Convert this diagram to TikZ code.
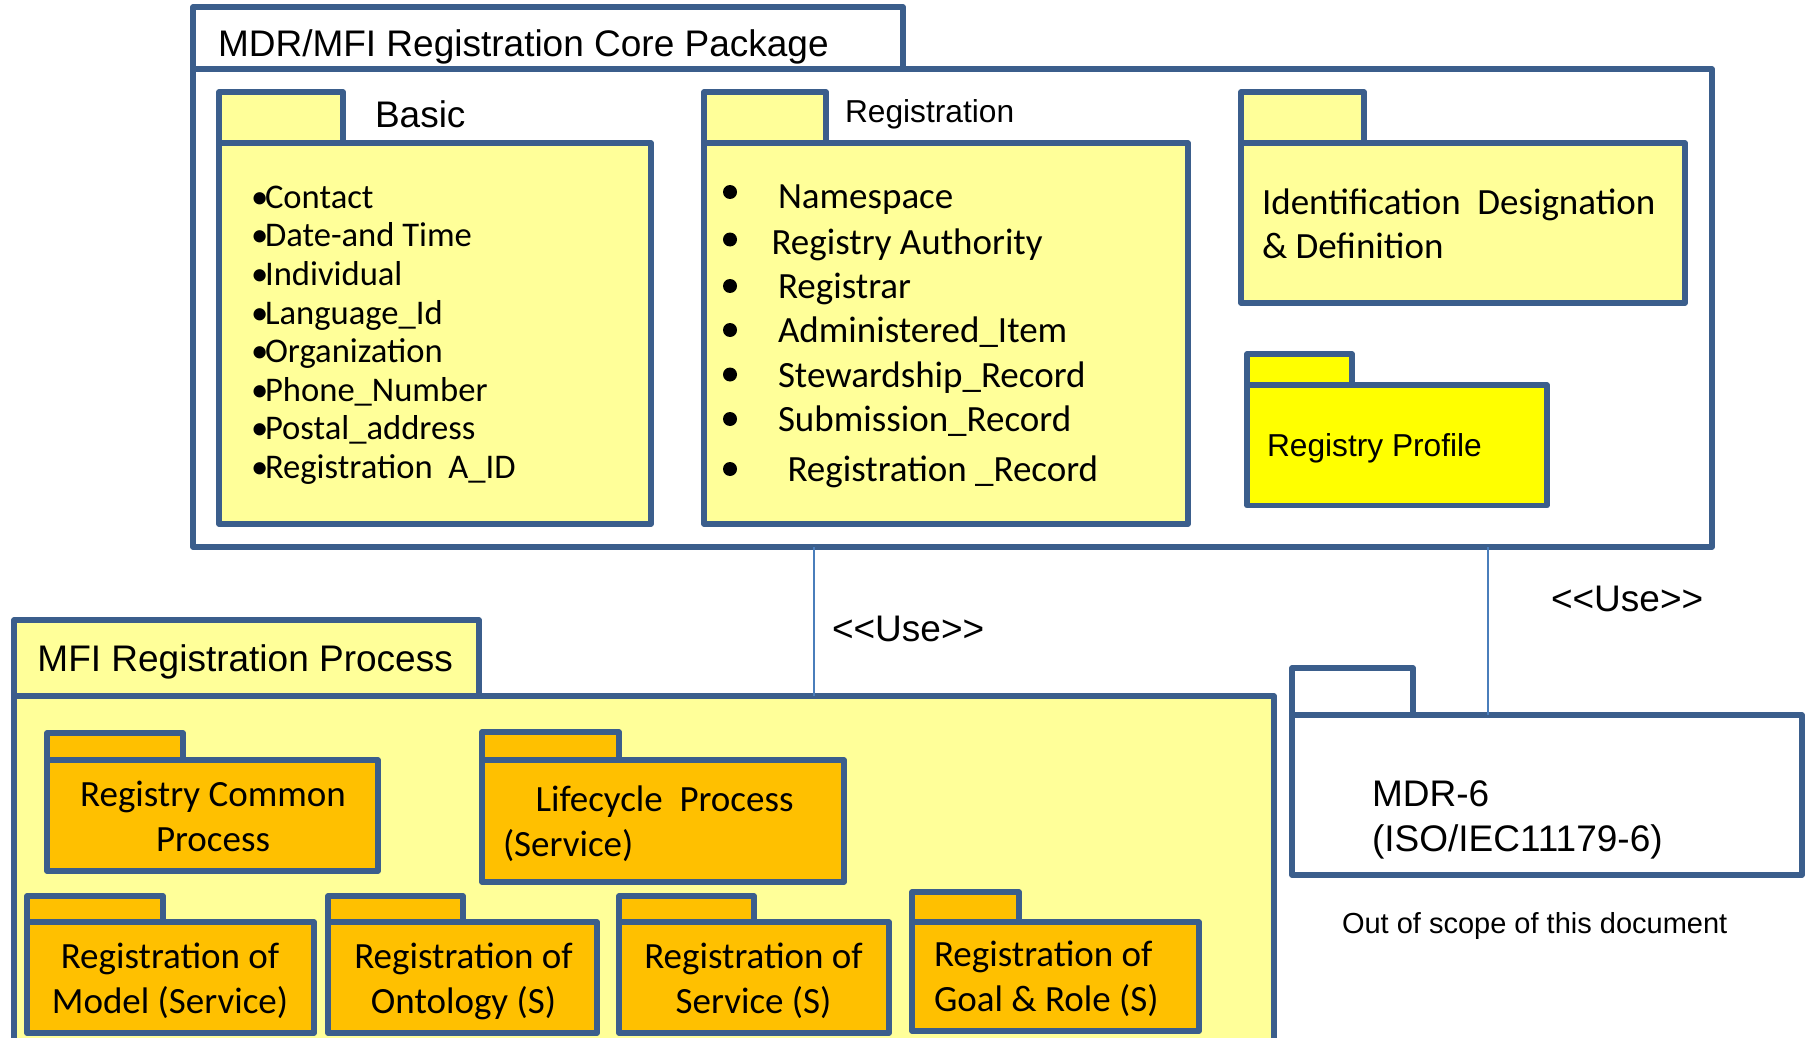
\documentclass[tikz,border=0pt]{standalone}
\usepackage{fontspec}
\setmainfont{Liberation Sans}
\newfontfamily\calibf{Carlito}
\definecolor{pkgline}{HTML}{3B5E8C}
\definecolor{connline}{HTML}{4A7EBB}
\definecolor{lightyel}{HTML}{FFFF99}
\definecolor{orangefill}{HTML}{FFC000}
\definecolor{brightyel}{HTML}{FFFF00}
\newcommand\pkgbox[6]{%
  \node[pkgshape, fill=#6, minimum width={((#4)-(#2))*0.5pt}, minimum height={((#5)-(#3))*0.5pt}] (#1) at (#2,#3) {};}
\newcommand\bul{•\kern-1.6pt}
\begin{document}
\begin{tikzpicture}[x=0.5pt,y=-0.5pt,
  pkgshape/.style={draw=pkgline, line width=2.75pt, rectangle, inner sep=0pt, outer sep=0pt, anchor=north west, line join=round},
  conn/.style={draw=connline, line width=1pt},
  txt/.style={anchor=base west, inner sep=0pt, outer sep=0pt},
  ctxt/.style={anchor=base, inner sep=0pt, outer sep=0pt},
  arialL/.style={font=\fontsize{18.5}{22}\selectfont},
  arialS/.style={font=\fontsize{15.85}{19}\selectfont},
  arialXS/.style={font=\fontsize{14.5}{17}\selectfont},
  calL/.style={font=\calibf\fontsize{18.5}{22}\selectfont},
  calM/.style={font=\calibf\fontsize{17.3}{21}\selectfont},
  blt/.style={fill=black, draw=none}
]
\useasboundingbox (0,0) rectangle (1811,1038);
\clip (0,0) rectangle (1811,1038);

% ---------------- Core package ----------------
\pkgbox{coretab}{193}{7}{903}{69}{white}
\pkgbox{core}{193}{69}{1712}{547}{white}
\node[txt, arialL] (coretitle) at (218,56.5) {MDR/MFI Registration Core Package};

% Basic
\pkgbox{basictab}{219}{92}{343}{143}{lightyel}
\pkgbox{basic}{219}{143}{651}{524}{lightyel}
\node[txt, arialL] (basiclbl) at (375,128) {Basic};
\node[txt, calM] (b1) at (251,208.5) {\bul Contact};
\node[txt, calM] (b2) at (251,247) {\bul Date-and Time};
\node[txt, calM] (b3) at (251,285.5) {\bul Individual};
\node[txt, calM] (b4) at (251,324) {\bul Language\_Id};
\node[txt, calM] (b5) at (251,362.5) {\bul Organization};
\node[txt, calM] (b6) at (251,401) {\bul Phone\_Number};
\node[txt, calM] (b7) at (251,439.5) {\bul Postal\_address};
\node[txt, calM] (b8) at (251,478) {\bul Registration\ \ A\_ID};

% Registration
\pkgbox{regtab}{704}{92}{826}{143}{lightyel}
\pkgbox{reg}{704}{143}{1188}{524}{lightyel}
\node[txt, arialS] (reglbl) at (845,122.5) {Registration};
\fill[blt] (730,192) circle (7);
\fill[blt] (730,239.5) circle (7);
\fill[blt] (730,286) circle (7);
\fill[blt] (730,330) circle (7);
\fill[blt] (730,374.5) circle (7);
\fill[blt] (730,419) circle (7);
\fill[blt] (730,469) circle (7);
\node[txt, calL] (r1) at (778,208) {Namespace};
\node[txt, calL] (r2) at (771.5,254.5) {Registry Authority};
\node[txt, calL] (r3) at (778,298.5) {Registrar};
\node[txt, calL] (r4) at (778,342.5) {Administered\_Item};
\node[txt, calL] (r5) at (778,387) {Stewardship\_Record};
\node[txt, calL] (r6) at (778,431.5) {Submission\_Record};
\node[txt, calL] (r7) at (787.5,481.5) {Registration \_Record};

% Identification
\pkgbox{idtab}{1241}{92}{1364}{143}{lightyel}
\pkgbox{ident}{1241}{143}{1685}{303}{lightyel}
\node[txt, calL] (id1) at (1262,214) {Identification\ \ Designation};
\node[txt, calL] (id2) at (1262,258.5) {\& Definition};

% Registry Profile
\pkgbox{proftab}{1247}{354}{1352}{385}{brightyel}
\pkgbox{prof}{1247}{385}{1547}{505.5}{brightyel}
\node[txt, arialS] (proflbl) at (1267,456) {Registry Profile};

% ---------------- MFI Registration Process ----------------
\pkgbox{mfitab}{14}{620}{479}{696}{lightyel}
\pkgbox{mfi}{14}{696}{1274}{1070}{lightyel}
\node[txt, arialL] (mfititle) at (37.5,671) {MFI Registration Process};

% Registry Common Process
\pkgbox{rcptab}{47}{733}{183}{760}{orangefill}
\pkgbox{rcp}{47}{760}{378}{871}{orangefill}
\node[ctxt, calL] (rcp1) at (213,806) {Registry Common};
\node[ctxt, calL] (rcp2) at (213,851) {Process};

% Lifecycle Process
\pkgbox{lcptab}{482}{732}{619}{760}{orangefill}
\pkgbox{lcp}{482}{760}{844}{882}{orangefill}
\node[txt, calL] (lcp1) at (535.5,811) {Lifecycle\ \ Process};
\node[txt, calL] (lcp2) at (503,856) {(Service)};

% Registration of Model
\pkgbox{rmtab}{27}{896}{163}{922}{orangefill}
\pkgbox{rm}{27}{922}{314}{1033}{orangefill}
\node[ctxt, calL] (rm1) at (170,968) {Registration of};
\node[ctxt, calL] (rm2) at (170,1013) {Model (Service)};

% Registration of Ontology
\pkgbox{rotab}{328}{896}{463}{922}{orangefill}
\pkgbox{ro}{328}{922}{597}{1033}{orangefill}
\node[ctxt, calL] (ro1) at (463.5,968) {Registration of};
\node[ctxt, calL] (ro2) at (463.5,1013) {Ontology (S)};

% Registration of Service
\pkgbox{rstab}{619}{896}{754}{922}{orangefill}
\pkgbox{rs}{619}{922}{889}{1033}{orangefill}
\node[ctxt, calL] (rs1) at (753.5,968) {Registration of};
\node[ctxt, calL] (rs2) at (753.5,1013) {Service (S)};

% Registration of Goal & Role
\pkgbox{rgtab}{912}{892}{1019}{922}{orangefill}
\pkgbox{rg}{912}{922}{1199}{1031}{orangefill}
\node[txt, calL] (rg1) at (934,966) {Registration of};
\node[txt, calL] (rg2) at (934,1011) {Goal \& Role (S)};

% ---------------- MDR-6 ----------------
\pkgbox{mdrtab}{1292}{668}{1413}{715}{white}
\pkgbox{mdr}{1292}{715}{1802}{875}{white}
\node[txt, arialL] (mdr1) at (1372,806) {MDR-6};
\node[txt, arialL] (mdr2) at (1372,851) {(ISO/IEC11179-6)};
\node[txt, arialXS] (scope) at (1342,933) {Out of scope of this document};

% ---------------- Connectors ----------------
\coordinate (u1) at (814,0);
\coordinate (u2) at (1488,0);
\draw[conn] (core.south -| u1) -- (mfi.north -| u1);
\draw[conn] (core.south -| u2) -- (mdr.north -| u2);
\node[txt, arialL] (use1) at (832,641) {<{}<Use>{}>};
\node[txt, arialL] (use2) at (1551,611) {<{}<Use>{}>};
\end{tikzpicture}
\end{document}
